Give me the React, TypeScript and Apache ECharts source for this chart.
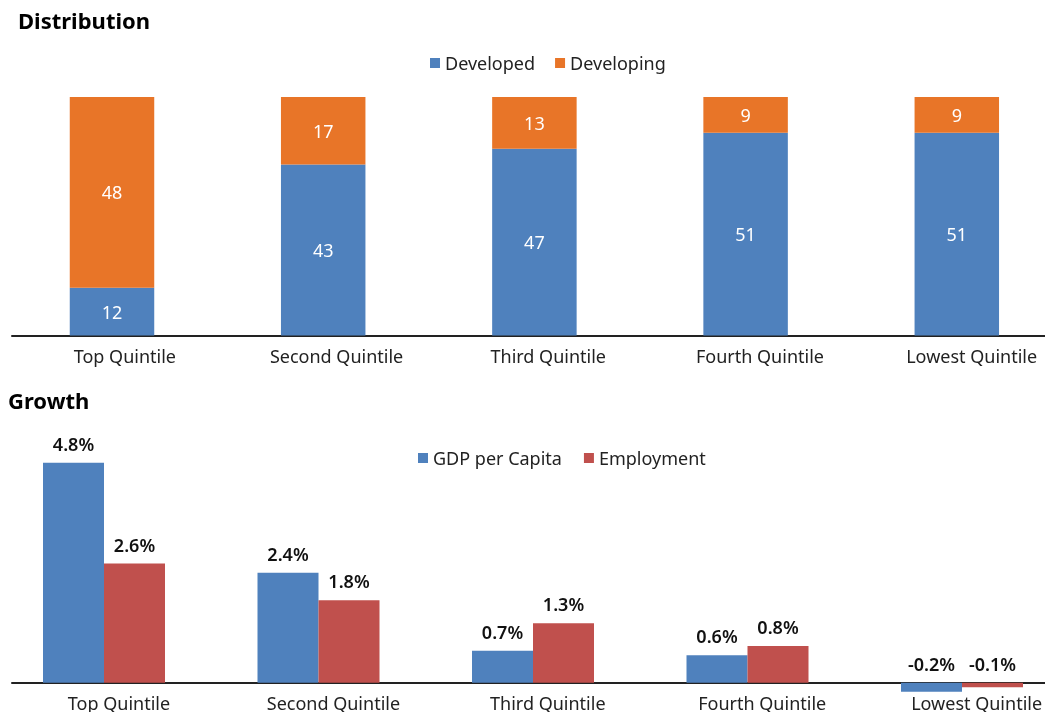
import React, { useEffect, useRef } from "react";
import * as echarts from "echarts";

const categories = ["Top Quintile", "Second Quintile", "Third Quintile", "Fourth Quintile", "Lowest Quintile"];
const developed = [12, 43, 47, 51, 51];
const developing = [48, 17, 13, 9, 9];
const gdpPerCapita = [4.8, 2.4, 0.7, 0.6, -0.2];
const employment = [2.6, 1.8, 1.3, 0.8, -0.1];

const FONT = "Noto Sans";
const BLUE = "#4F81BD";
const ORANGE = "#E87528";
const RED = "#C0504D";
const INK = "#222222";
const OX = 20; // the canvas starts 20px left of the page so grids may reach past the right edge

export default function App() {
  const ref = useRef<HTMLDivElement>(null);
  useEffect(() => {
    if (!ref.current) return;
    const chart = echarts.init(ref.current, null, { renderer: "svg" });
    const topT = 97, topH = 238.5;
    const botT = 453.7, botH = 251.9;
    const hiddenCat = (gridIndex: number) => ({
      type: "category", gridIndex, data: categories,
      axisLine: { show: false }, axisTick: { show: false }, axisLabel: { show: false },
    });
    const labelCat = (gridIndex: number, margin: number) => ({
      type: "category", gridIndex, data: categories,
      axisLine: { show: false }, axisTick: { show: false },
      axisLabel: { show: true, color: INK, fontFamily: FONT, fontSize: 18, margin, interval: 0 },
    });
    const lineCat = (gridIndex: number) => ({
      type: "category", gridIndex, data: categories,
      axisLine: { show: true, lineStyle: { color: INK, width: 2 } },
      axisTick: { show: false }, axisLabel: { show: false },
    });
    const val = (gridIndex: number, min: number, max: number) => ({
      type: "value", gridIndex, min, max, show: false, splitLine: { show: false },
    });
    const pct = (p: any) => p.value.toFixed(1) + "%";
    chart.setOption({
      animation: false,
      title: [
        { text: "Distribution", left: OX + 13, top: 4, textStyle: { fontFamily: FONT, fontSize: 22, fontWeight: "bold", color: "#000" } },
        { text: "Growth", left: OX + 3, top: 384, textStyle: { fontFamily: FONT, fontSize: 22, fontWeight: "bold", color: "#000" } },
      ],
      legend: [
        {
          data: ["Developed", "Developing"], left: OX + 425, top: 49, itemWidth: 10, itemHeight: 10, itemGap: 20,
          icon: "rect", textStyle: { fontFamily: FONT, fontSize: 18, color: INK },
        },
        {
          data: ["GDP per Capita", "Employment"], left: OX + 413, top: 444, itemWidth: 10, itemHeight: 10, itemGap: 22,
          icon: "rect", textStyle: { fontFamily: FONT, fontSize: 18, color: INK },
        },
      ],
      grid: [
        { left: OX + 6.4, width: 1056, top: topT, height: topH },
        { left: OX + 19, width: 1058.5, top: topT, height: topH },
        { left: OX + 12, right: 0, top: topT, height: topH },
        { left: OX - 3.25, width: 1072.5, top: botT, height: botH },
        { left: OX + 11.8, width: 1072, top: botT, height: botH },
        { left: OX + 12, right: 0, top: botT, height: botH },
      ],
      xAxis: [hiddenCat(0), labelCat(1, 11), lineCat(2), hiddenCat(3), labelCat(4, 9), lineCat(5)],
      yAxis: [val(0, 0, 60), val(1, 0, 60), val(2, 0, 60), val(3, -0.5, 5), val(4, -0.5, 5), val(5, -0.5, 5)],
      series: [
        {
          name: "Developed", type: "bar", stack: "dist", xAxisIndex: 0, yAxisIndex: 0, data: developed,
          barWidth: "40%", itemStyle: { color: BLUE },
          label: { show: true, position: "inside", color: "#fff", fontFamily: FONT, fontSize: 18 },
        },
        {
          name: "Developing", type: "bar", stack: "dist", xAxisIndex: 0, yAxisIndex: 0, data: developing,
          barWidth: "40%", itemStyle: { color: ORANGE },
          label: { show: true, position: "inside", color: "#fff", fontFamily: FONT, fontSize: 18 },
        },
        {
          name: "GDP per Capita", type: "bar", xAxisIndex: 3, yAxisIndex: 3, data: gdpPerCapita,
          barWidth: 61, barGap: "0%", itemStyle: { color: BLUE },
          label: { show: true, position: "top", distance: 10, color: "#111", fontFamily: FONT, fontSize: 18, fontWeight: 600, formatter: pct },
        },
        {
          name: "Employment", type: "bar", xAxisIndex: 3, yAxisIndex: 3, data: employment,
          barWidth: 61, barGap: "0%", itemStyle: { color: RED },
          label: { show: true, position: "top", distance: 10, color: "#111", fontFamily: FONT, fontSize: 18, fontWeight: 600, formatter: pct },
        },
      ],
    });
    return () => chart.dispose();
  }, []);
  return <div ref={ref} style={{ position: "fixed", left: -OX, top: 0, width: 1045 + OX + 60, height: 712 }} />;
}
